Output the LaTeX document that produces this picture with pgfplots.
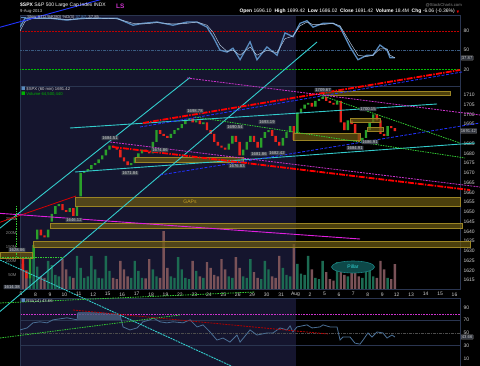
\documentclass[border=0pt]{standalone}
\usepackage{amssymb}
\usepackage{pgfplots}
\pgfplotsset{compat=1.18}
\usepackage{pgfplotstable}
\usepackage{fontspec}
\setmainfont{Liberation Sans}
\definecolor{navy}{HTML}{15152E}
\definecolor{bord}{HTML}{2A3550}
\definecolor{upg}{HTML}{2AA02A}
\definecolor{dnr}{HTML}{E8231C}
\definecolor{volg}{HTML}{1C6B52}
\definecolor{volr}{HTML}{7A5258}
\definecolor{cy}{HTML}{33CCCC}
\definecolor{mag}{HTML}{CC33CC}
\definecolor{grn}{HTML}{33CC33}
\definecolor{blu}{HTML}{2233FF}
\definecolor{goldf}{HTML}{6B5A12}
\definecolor{golde}{HTML}{9A8424}
\definecolor{lbl}{HTML}{3C424E}
\definecolor{stk}{HTML}{5A8CC0}
\definecolor{stkl}{HTML}{B8CCE4}
\definecolor{txt}{HTML}{D0D0D0}
\definecolor{dimtxt}{HTML}{8A8A8A}
\definecolor{midline}{HTML}{3A5A80}
\definecolor{obfill}{HTML}{4A5F7E}
\definecolor{rsil}{HTML}{4A6F95}
\definecolor{gaptxt}{HTML}{C8A020}
\definecolor{magsolid}{HTML}{E020E0}
\definecolor{pilb}{HTML}{1A8080}
\definecolor{pilf}{HTML}{0D4848}
\definecolor{piltxt}{HTML}{33DDDD}
\definecolor{boxf}{HTML}{2A2E38}
\newcommand{\tl}{\fontsize{5}{6}\selectfont}
\newcommand{\sm}{\fontsize{4.2}{5}\selectfont}
\pgfplotstableread{
x o c v
0.125 1626 1620 90
0.375 1620 1616 60
0.625 1616 1626 55
0.875 1626 1633 118
1.125 1636 1641 80
1.375 1641 1638 45
1.625 1638 1637 40
1.875 1637 1641 100
2.125 1645 1649 85
2.375 1649 1653 50
2.625 1653 1654 45
2.875 1654 1651 107
3.125 1651 1650 70
3.375 1650 1652 45
3.625 1652 1648 40
3.875 1648 1653 118
4.125 1658 1670 75
4.375 1670 1671 40
4.625 1671 1672 45
4.875 1672 1674 118
5.125 1674 1675 70
5.375 1675 1677 40
5.625 1677 1679 38
5.875 1679 1682 118
6.125 1682 1684 65
6.375 1684 1683 40
6.625 1683 1682 35
6.875 1682 1678 100
7.125 1678 1676 70
7.375 1676 1674 45
7.625 1674 1675 40
7.875 1675 1678 100
8.125 1678 1680 65
8.375 1680 1682 40
8.625 1682 1681 38
8.875 1681 1680 107
9.125 1680 1686 70
9.375 1686 1692 45
9.625 1692 1690 40
9.875 1690 1689 207
10.125 1689 1688 75
10.375 1688 1690 45
10.625 1690 1692 40
10.875 1692 1693 114
11.125 1693 1695 70
11.375 1695 1697 40
11.625 1697 1698 35
11.875 1698 1696 100
12.125 1696 1697 65
12.375 1697 1695 45
12.625 1695 1696 40
12.875 1696 1692 96
13.125 1692 1690 75
13.375 1690 1686 50
13.625 1686 1684 45
13.875 1684 1683 107
14.125 1683 1682 70
14.375 1682 1685 45
14.625 1685 1689 40
14.875 1689 1686 114
15.125 1686 1679 75
15.375 1679 1682 45
15.625 1682 1686 40
15.875 1686 1689 107
16.125 1689 1686 60
16.375 1686 1683 40
16.625 1683 1688 35
16.875 1688 1691 100
17.125 1691 1692 70
17.375 1692 1689 45
17.625 1689 1686 40
17.875 1686 1684 118
18.125 1684 1688 75
18.375 1688 1691 50
18.625 1691 1694 45
18.875 1694 1687 160
19.125 1690 1701 90
19.375 1701 1703 55
19.625 1703 1705 50
19.875 1705 1706 118
20.125 1706 1704 70
20.375 1704 1707 40
20.625 1707 1708 35
20.875 1708 1709 100
21.125 1709 1707 60
21.375 1707 1706 35
21.625 1706 1705 30
21.875 1705 1707 96
22.125 1707 1696 85
22.375 1696 1692 50
22.625 1692 1697 45
22.875 1697 1695 96
23.125 1695 1690 80
23.375 1690 1686 45
23.625 1686 1688 40
23.875 1688 1692 89
24.125 1692 1696 75
24.375 1696 1700 45
24.625 1700 1697 40
24.875 1697 1690 100
25.125 1690 1689 70
25.375 1689 1694 40
25.625 1694 1693 35
25.875 1693 1691.4 89
}\spx
\pgfplotsset{
 pix/.style={at={(0pt,0pt)}, anchor=south west, scale only axis, width=480pt, height=366pt,
   xmin=0, xmax=480, ymin=0, ymax=366, y dir=reverse, hide axis, clip=false},
 panel/.style={anchor=south west, scale only axis, width=440pt, xmin=-0.0692, xmax=30.38,
   axis line style={draw=none}, major tick length=0pt,
   tick label style={font=\tl, text=txt},
   /pgf/number format/assume math mode=true, /pgf/number format/1000 sep={}},
}
\tikzset{plbl/.style={fill=lbl, text=txt, font=\sm, inner sep=0.7pt, rounded corners=0.4pt}}
\begin{document}
\begin{tikzpicture}[x=1pt,y=1pt]
\useasboundingbox (0,0) rectangle (480,366);
\fill[black] (0,0) rectangle (480,366);
\clip (0,0) rectangle (480,366);
% ---------- backgrounds
\begin{axis}[pix]
\fill[navy] (axis cs:20,15) rectangle (axis cs:296,86);
\fill[navy] (axis cs:20,86) rectangle (axis cs:296,289);
\fill[navy] (axis cs:20,298) rectangle (axis cs:296,366);
\draw[bord, line width=0.7pt] (axis cs:20,15) rectangle (axis cs:460,86);
\draw[bord, line width=0.7pt] (axis cs:20,86) rectangle (axis cs:460,289);
\draw[bord, line width=0.7pt] (axis cs:20,298) rectangle (axis cs:460,370);
\end{axis}
% ---------- stochastics
\begin{axis}[panel, at={(20pt,280pt)}, height=71pt, ymin=-6.1, ymax=105,
  xtick=\empty, ytick={20,50,80}, yticklabel pos=right]
\addplot[red!75!black, line width=0.7pt, dash pattern=on 2pt off 1pt] coordinates {(-1,80) (31,80)};
\addplot[midline, line width=0.5pt, dash pattern=on 3pt off 1pt on 1pt off 1pt] coordinates {(-1,50) (31,50)};
\addplot[green!75!black, line width=0.7pt, dash pattern=on 2pt off 1pt] coordinates {(-1,20) (31,20)};
\addplot[stk, line width=1.3pt] coordinates {(-0.07,86) (0.28,100) (0.83,100) (2.01,100) (3.18,97) (4.29,100) (5.47,100) (6.64,100) (7.75,89) (8.44,92) (9.41,94) (10.52,89) (11.49,94) (12.18,94) (12.87,86) (13.29,71) (13.77,50) (14.26,47) (14.67,53) (15.16,35) (15.85,63) (16.33,35) (17.02,55) (17.72,42) (18.27,77) (18.82,71) (19.31,92) (19.79,96) (20.21,86) (20.90,92) (21.59,92) (22.08,86) (22.77,55) (23.32,35) (23.94,42) (24.36,42) (24.84,58) (25.33,50) (25.54,38) (25.88,38)};
\addplot[stkl, line width=0.45pt] coordinates {(-0.07,80) (0.28,95) (0.83,100) (2.01,100) (3.18,98) (4.29,99) (5.47,100) (6.64,99) (7.75,92) (8.44,91) (9.41,93) (10.52,91) (11.49,92) (12.18,94) (12.87,89) (13.29,78) (13.77,58) (14.26,48) (14.67,50) (15.16,42) (15.85,55) (16.33,42) (17.02,50) (17.72,46) (18.27,68) (18.82,72) (19.31,88) (19.79,94) (20.21,90) (20.90,90) (21.59,92) (22.08,88) (22.77,62) (23.32,42) (23.94,40) (24.36,42) (24.84,52) (25.33,52) (25.54,42) (25.88,38)};
\end{axis}
% ---------- volume
\begin{axis}[panel, at={(20pt,77pt)}, height=203pt, ymin=0, ymax=725,
  xtick=\empty, ytick={50,100,150,200,250}, yticklabels={50M,100M,150M,200M,250M},
  yticklabel pos=left, yticklabel style={text=dimtxt, font=\sm}]
\addplot[ybar, bar shift=0pt, bar width=2.4pt, fill=volg, draw=none,
  restrict expr to domain={\thisrow{c}-\thisrow{o}}{0:500}] table[x=x, y=v] {\spx};
\addplot[ybar, bar shift=0pt, bar width=2.4pt, fill=volr, draw=none,
  restrict expr to domain={\thisrow{c}-\thisrow{o}}{-500:0}] table[x=x, y=v] {\spx};
\end{axis}
% ---------- price (candles as floating stacked bars)
\begin{axis}[panel, at={(20pt,77pt)}, height=203pt, ymin=1610.5, ymax=1714.6,
  ybar stacked, bar width=2.4pt,
  xtick={0,...,30},
  xticklabels={5,8,9,10,11,12,15,16,17,18,19,22,23,24,25,26,29,30,31,Aug,2,5,6,7,8,9,12,13,14,15,16},
  ytick={1615,1620,...,1685,1695,1700,1705,1710}, yticklabel pos=right]
\addplot[fill=none, draw=none] table[x=x, y expr={min(\thisrow{o},\thisrow{c})}] {\spx};
\addplot[fill=upg, draw=none] table[x=x, y expr={\thisrow{c}>\thisrow{o} ? \thisrow{c}-\thisrow{o} : 0}] {\spx};
\addplot[fill=dnr, draw=none] table[x=x, y expr={\thisrow{c}<\thisrow{o} ? \thisrow{o}-\thisrow{c} : 0}] {\spx};
\end{axis}
% ---------- RSI
\begin{axis}[panel, at={(20pt,0pt)}, height=68pt, ymin=-1.8, ymax=104.9,
  xtick=\empty, ytick={10,30,50,70,90}, yticklabel pos=right]
\addplot[bord, line width=0.6pt] coordinates {(-1,70) (31,70)};
\addplot[bord, line width=0.6pt] coordinates {(-1,30) (31,30)};
\addplot[gray!60!black, line width=0.4pt, dash pattern=on 3pt off 1pt on 1pt off 1pt] coordinates {(-1,50) (31,50)};
\addplot[mag, line width=1.4pt, dash pattern=on 1pt off 0.6pt] coordinates {(-1,79) (31,79)};
\addplot[fill=obfill, draw=none, fill opacity=0.8] coordinates {(3.91,70) (3.94,81.7) (4.57,81.7) (5.47,81.7) (6.16,80.2) (6.85,78.6) (6.93,70)} -- cycle;
\addplot[rsil, line width=0.8pt] coordinates {(-0.07,54.8) (0.42,57.9) (0.83,65.9) (1.31,67.5) (1.80,65.9) (2.21,70.6) (3.18,73.8) (3.88,70.6) (3.94,81.7) (4.57,81.7) (5.47,81.7) (6.16,80.2) (6.85,78.6) (7.06,59.5) (7.54,54.8) (8.03,57.9) (8.44,67.5) (8.93,70.6) (9.13,73.8) (9.62,67.5) (10.10,65.9) (10.52,67.5) (11.21,65.9) (11.70,70.6) (12.18,59.5) (12.60,62.7) (13.08,51.6) (13.56,38.9) (13.98,42.1) (14.46,35.7) (14.95,46.8) (15.16,35.7) (15.85,54.8) (16.33,46.8) (17.02,50) (17.44,50) (17.92,57.9) (18.41,54.8) (18.62,61.1) (18.82,51.6) (19.10,59.5) (19.79,62.7) (20.14,57.9) (20.69,59.5) (20.90,62.7) (21.38,59.5) (21.87,59.5) (22.08,38.9) (22.28,43.7) (22.77,43.7) (23.11,34.1) (23.46,32.5) (23.67,38.9) (24.01,50) (24.29,43.7) (24.64,51.6) (25.05,50) (25.33,42.1) (25.67,46.8) (25.88,43.7)};
\end{axis}
% ---------- annotations (pixel coordinates)
\begin{axis}[pix]
\foreach \a/\b/\c/\d in {75/197/460/206, 50/223/462/228, 33/241/470/247, 0/252/32/258, 135/157/243/162, 293/133/360/140, 323/91/450/95, 350/118/380/122, 367/127/383/131}{
  \edef\tmp{\noexpand\fill[goldf, fill opacity=0.7] (axis cs:\a,\b) rectangle (axis cs:\c,\d);
  \noexpand\draw[golde, line width=0.6pt] (axis cs:\a,\b) rectangle (axis cs:\c,\d);}\tmp
}
\node[text=gaptxt, font=\tl] at (axis cs:190,201.5) {GAPs};
\addplot[cy, line width=0.9pt] coordinates {(-10,236) (190,77.5)};
\addplot[cy, line width=0.9pt] coordinates {(-10,320) (317,42)};
\addplot[cy, line width=0.9pt, dash pattern=on 2pt off 0.8pt] coordinates {(0,260) (240,370)};
\addplot[cy, line width=0.9pt] coordinates {(70,128) (437,104)};
\addplot[cy, line width=0.9pt] coordinates {(75,172) (475,143)};
\addplot[blu, line width=0.9pt] coordinates {(-10,30) (110,-3)};
\addplot[blu, line width=0.8pt, dash pattern=on 3pt off 1.5pt] coordinates {(140,127) (462,72)};
\addplot[blu, line width=0.8pt, dash pattern=on 3pt off 1.5pt] coordinates {(160,175) (480,123)};
\addplot[red, line width=1.8pt, dash pattern=on 6pt off 1.2pt on 1.5pt off 1.2pt] coordinates {(143,123) (460,70)};
\addplot[mag, line width=0.8pt, dash pattern=on 2pt off 1pt] coordinates {(110,142) (480,187)};
\addplot[red, line width=1.8pt, dash pattern=on 6pt off 1.2pt on 1.5pt off 1.2pt] coordinates {(113,147) (470,190)};
\addplot[red!85!black, line width=0.8pt] coordinates {(-5,224) (76,196)};
\addplot[mag, line width=0.8pt, dash pattern=on 2pt off 1pt] coordinates {(187,78) (480,115)};
\addplot[magsolid, line width=0.9pt] coordinates {(-5,213) (360,239)};
\addplot[grn, line width=0.8pt, dash pattern=on 1.5pt off 1pt] coordinates {(320,95) (460,143)};
\addplot[grn, line width=0.8pt, dash pattern=on 1.5pt off 1pt] coordinates {(195,117) (465,158)};
\addplot[grn, line width=0.8pt, dash pattern=on 1.5pt off 1pt] coordinates {(16,206) (16,257)};
\addplot[grn, line width=0.8pt, dash pattern=on 1.5pt off 1pt] coordinates {(0,257) (64,257)};
\addplot[grn, line width=0.8pt, dash pattern=on 1.5pt off 1pt] coordinates {(0,303) (255,292)};
\addplot[grn, line width=0.8pt, dash pattern=on 1.5pt off 1pt] coordinates {(0,338) (180,315)};
\addplot[red!70!black, line width=0.8pt, dash pattern=on 2pt off 1pt] coordinates {(73,310) (328,334)};
\draw[pilb, fill=pilf, line width=0.6pt] (axis cs:353,267) ellipse [x radius=21.5pt, y radius=6pt];
\node[text=piltxt, font=\tl] at (axis cs:353,267) {Pillar};
\node[plbl] at (axis cs:12,287) {1614.38};
\node[plbl] at (axis cs:17,250) {1628.86};
\node[plbl] at (axis cs:74,220) {1646.12};
\node[plbl] at (axis cs:110,138) {1684.51};
\node[plbl] at (axis cs:130,173) {1671.84};
\node[plbl] at (axis cs:160,150) {1674.86};
\node[plbl] at (axis cs:195,111) {1698.78};
\node[plbl] at (axis cs:235,127) {1690.54};
\node[plbl] at (axis cs:237,166) {1676.83};
\node[plbl] at (axis cs:259,154) {1681.86};
\node[plbl] at (axis cs:267,122) {1693.19};
\node[plbl] at (axis cs:277,153) {1682.42};
\node[plbl] at (axis cs:323,90) {1709.67};
\node[plbl] at (axis cs:368,109) {1700.15};
\node[plbl] at (axis cs:355,148) {1684.91};
\node[plbl] at (axis cs:370,142) {1686.91};
\node[plbl, draw=gray, fill=boxf, anchor=west] at (axis cs:460,131) {1691.42};
\node[plbl, draw=gray, fill=boxf, anchor=west] at (axis cs:461,58) {37.87};
\node[plbl, draw=gray, fill=boxf, anchor=west] at (axis cs:461,337) {43.66};
\node[anchor=west, text=white, font=\tl, inner sep=0pt] at (axis cs:20,5.5) {\textbf{\$SPX} S\&P 500 Large Cap Index INDX};
\node[anchor=west, text=mag, font=\fontsize{6.5}{7}\selectfont\bfseries, inner sep=0pt] at (axis cs:116,6) {LS};
\node[anchor=west, text=txt, font=\sm, inner sep=0pt] at (axis cs:20,11.5) {9-Aug-2013};
\node[anchor=east, text=dimtxt, font=\sm, inner sep=0pt] at (axis cs:462,5) {@StockCharts.com};
\node[anchor=east, text=white, font=\tl, inner sep=0pt] at (axis cs:455,11.5) {\textbf{Open} 1696.10 \ \textbf{High} 1699.42 \ \textbf{Low} 1686.02 \ \textbf{Close} 1691.42 \ \textbf{Volume} 18.4M \ \textbf{Chg} -6.06 (-0.36\%)};
\node[anchor=west, text=red, font=\sm, inner sep=0pt] at (axis cs:456,12) {$\blacktriangledown$};
\node[anchor=west, text=txt, font=\sm, inner sep=0pt] at (axis cs:21,17.5) {\textcolor{stk}{\rule[0.7pt]{5pt}{0.8pt}} Slow STO \%K(80) \%D(3) \textcolor{stk}{37.87}, 37.85};
\node[anchor=west, text=txt, font=\sm, inner sep=0pt] at (axis cs:21,89.5) {\textcolor{stk}{$\blacksquare$}\,\$SPX (60 min) 1691.42};
\node[anchor=west, text=green!70!black, font=\sm, inner sep=0pt] at (axis cs:21,94.5) {$\blacksquare$\,Volume 64,500,440};
\node[anchor=west, text=txt, font=\sm, inner sep=0pt] at (axis cs:21,301) {\textcolor{stk}{$\blacksquare$}\,RSI(14) 43.66};
\end{axis}
\end{tikzpicture}
\end{document}
